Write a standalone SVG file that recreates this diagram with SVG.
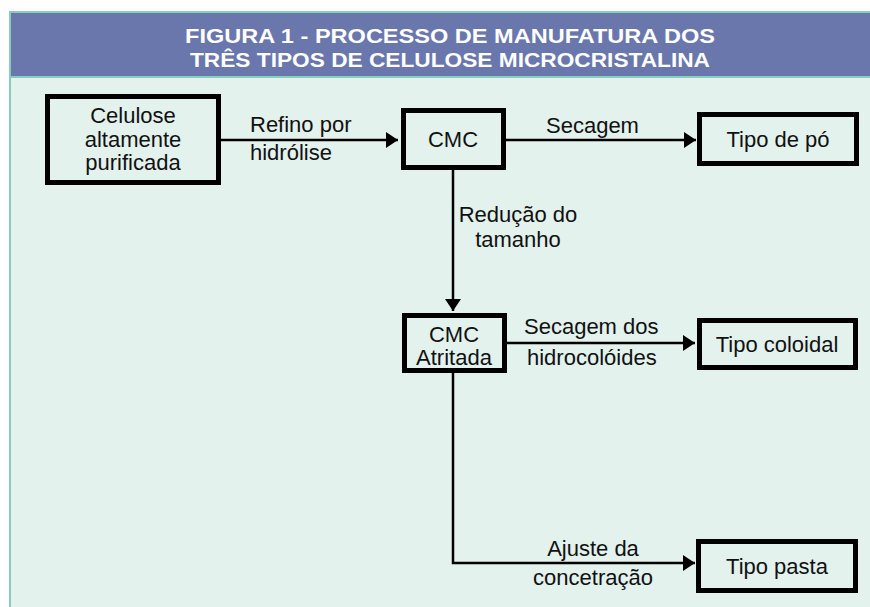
<svg xmlns="http://www.w3.org/2000/svg" width="870" height="607" viewBox="0 0 870 607">
<defs>
<style>
.box{fill:none;stroke:#000;stroke-width:5}
.t{font-family:"Liberation Sans",Arial,sans-serif;font-size:22px;fill:#111}
.m{text-anchor:middle}
.h{font-family:"Liberation Sans",Arial,sans-serif;font-weight:bold;font-size:21px;fill:#fff;text-anchor:middle}
.c{fill:none;stroke:#000;stroke-width:2.5}
</style>
<marker id="ah" viewBox="0 0 12 16" refX="12" refY="8" markerWidth="12" markerHeight="16" markerUnits="userSpaceOnUse" orient="auto">
<path d="M0,0 L12,8 L0,16 Z" fill="#000"/>
</marker>
</defs>
<rect x="0" y="0" width="870" height="607" fill="#fff"/>
<rect x="10" y="12" width="862" height="600" fill="#E3F2ED" stroke="#86CDBE" stroke-width="2"/>
<rect x="10" y="12" width="862" height="65" fill="#6A77AD" stroke="#86CDBE" stroke-width="2"/>
<g id="title">
<text class="h" x="450" y="43" textLength="530" lengthAdjust="spacingAndGlyphs">FIGURA 1 - PROCESSO DE MANUFATURA DOS</text>
<text class="h" x="450" y="67" textLength="520" lengthAdjust="spacingAndGlyphs">TRÊS TIPOS DE CELULOSE MICROCRISTALINA</text>
</g>
<g id="connectors">
<path class="c" d="M221,140 H398" marker-end="url(#ah)"/>
<path class="c" d="M506,140 H696" marker-end="url(#ah)"/>
<path class="c" d="M453,170 V311" marker-end="url(#ah)"/>
<path class="c" d="M507,343 H695" marker-end="url(#ah)"/>
<path class="c" d="M453,373 V563 H695" marker-end="url(#ah)"/>
<text class="t" x="250" y="132">Refino por</text>
<text class="t" x="250" y="160">hidrólise</text>
<text class="t" x="546" y="133">Secagem</text>
<text class="t m" x="518" y="222">Redução do</text>
<text class="t m" x="518" y="247">tamanho</text>
<text class="t" x="524" y="334">Secagem dos</text>
<text class="t" x="527" y="365">hidrocolóides</text>
<text class="t m" x="593" y="556">Ajuste da</text>
<text class="t m" x="593" y="585">concetração</text>
</g>
<g id="n-celulose">
<rect class="box" x="47.5" y="96.5" width="171" height="86"/>
<text class="t m" x="133" y="123">Celulose</text>
<text class="t m" x="133" y="147">altamente</text>
<text class="t m" x="133" y="170">purificada</text>
</g>
<g id="n-cmc">
<rect class="box" x="403.5" y="110.5" width="100" height="57"/>
<text class="t m" x="453" y="147">CMC</text>
</g>
<g id="n-po">
<rect class="box" x="699.5" y="114.5" width="157" height="49"/>
<text class="t m" x="778" y="147">Tipo de pó</text>
</g>
<g id="n-atritada">
<rect class="box" x="404.5" y="315.5" width="100" height="55"/>
<text class="t m" x="454" y="342">CMC</text>
<text class="t m" x="454" y="365">Atritada</text>
</g>
<g id="n-coloidal">
<rect class="box" x="699.5" y="320.5" width="156" height="47"/>
<text class="t m" x="777" y="352">Tipo coloidal</text>
</g>
<g id="n-pasta">
<rect class="box" x="698.5" y="541.5" width="157" height="49"/>
<text class="t m" x="777" y="574">Tipo pasta</text>
</g>
</svg>
